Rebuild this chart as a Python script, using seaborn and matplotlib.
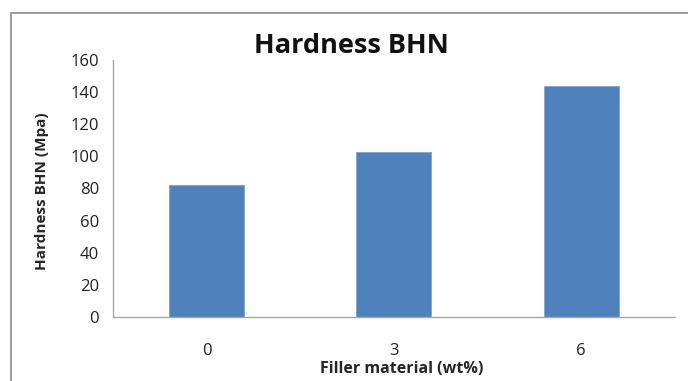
import matplotlib
matplotlib.use("Agg")
import matplotlib.pyplot as plt
import seaborn as sns
import pandas as pd
from matplotlib.patches import Rectangle

# Hardness measurements per filler content
filler_wt = ["0", "3", "6"]
hardness_bhn = [82, 103, 144]

df = pd.DataFrame({"filler": filler_wt, "hardness": hardness_bhn})

sns.set_theme(style="white")
plt.rcParams["font.family"] = ["Open Sans", "DejaVu Sans"]

fig = plt.figure(figsize=(6.88, 3.81), dpi=100)
ax = fig.add_axes([0.1642, 0.168, 0.8168, 0.6745])

sns.barplot(data=df, x="filler", y="hardness", color="#4F81BD",
            width=0.4, saturation=1, edgecolor="#7FA3D1", linewidth=0.6, ax=ax)

ax.set_ylim(0, 160)
ax.set_xlim(-0.5, 2.5)
ax.set_yticks(range(0, 161, 20))
ax.tick_params(axis="y", labelsize=12, colors="#222222", length=5,
               width=0.8, direction="out", color="#999999", pad=5)

# Category boundaries get tick marks; labels sit at the bar centres
ax.set_xticks([-0.5, 0.5, 1.5, 2.5])
ax.set_xticklabels([])
ax.set_xticks([0, 1, 2], minor=True)
ax.set_xticklabels(filler_wt, minor=True)
ax.tick_params(axis="x", which="major", length=6, width=0.8,
               direction="out", color="#999999")
ax.tick_params(axis="x", which="minor", length=0, labelsize=12,
               labelcolor="#222222", pad=19)

for side in ("top", "right"):
    ax.spines[side].set_visible(False)
for side in ("left", "bottom"):
    ax.spines[side].set_color("#a6a6a6")
    ax.spines[side].set_linewidth(1.0)

ax.set_xlabel("Filler material (wt%)", fontsize=11.5, fontweight="bold")
ax.set_ylabel("Hardness BHN (Mpa)", fontsize=11, fontweight="bold")
ax.xaxis.set_label_coords(0.514, -0.172)
ax.yaxis.set_label_coords(-0.114, 0.49)

fig.text(0.511, 0.88, "Hardness BHN", ha="center", va="center",
         fontsize=19.5, fontweight="bold", color="#111111")

# Chart-area frame
fig.patches.append(Rectangle((0.016, -0.05), 1.1, 1.017,
                             transform=fig.transFigure, fill=False,
                             edgecolor="#8c8c8c", linewidth=1.2))

fig.savefig("out.png", dpi=100)
